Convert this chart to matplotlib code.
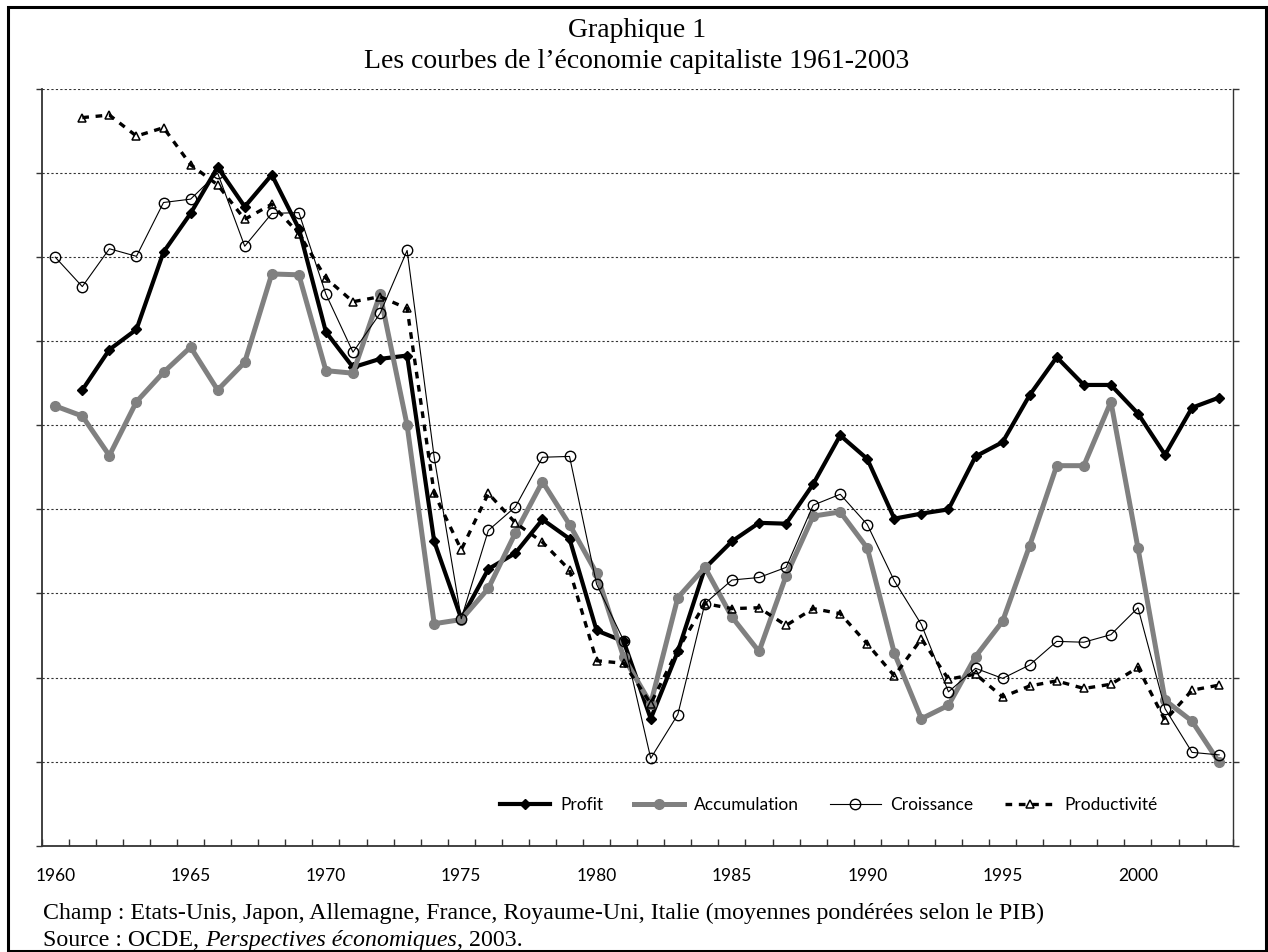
import numpy as np
import matplotlib
matplotlib.use('Agg')
import matplotlib.pyplot as plt
from matplotlib.patches import Rectangle

# years on the category axis
years = list(range(1960, 2004))

# series values (arbitrary units: one gridline = 1)
profit = [5.42, 5.90, 6.14, 7.06, 7.52, 8.07, 7.60, 7.98, 7.34,
          6.11, 5.69, 5.79, 5.83, 3.62, 2.70, 3.29, 3.48, 3.88, 3.65,
          2.56, 2.43, 1.51, 2.31, 3.30, 3.62, 3.84, 3.83, 4.30, 4.88,
          4.60, 3.89, 3.95, 4.00, 4.63, 4.80, 5.36, 5.81, 5.48, 5.48,
          5.14, 4.65, 5.21, 5.33]  # 1961-2003

accumulation = [5.23, 5.11, 4.64, 5.28, 5.63, 5.93, 5.42, 5.75, 6.80, 6.79,
                5.65, 5.62, 6.56, 5.00, 2.64, 2.69, 3.06, 3.72, 4.33, 3.82,
                3.24, 2.24, 1.69, 2.95, 3.31, 2.72, 2.31, 3.21, 3.92, 3.97,
                3.54, 2.29, 1.51, 1.67, 2.25, 2.67, 3.57, 4.52, 4.52, 5.28,
                3.54, 1.73, 1.48, 0.99]  # 1960-2003

croissance = [7.00, 6.65, 7.10, 7.01, 7.65, 7.69, 8.00, 7.13, 7.52, 7.53,
              6.56, 5.87, 6.33, 7.08, 4.62, 2.70, 3.75, 4.03, 4.62, 4.63,
              3.11, 2.44, 1.04, 1.56, 2.88, 3.16, 3.19, 3.31, 4.05, 4.18,
              3.82, 3.15, 2.63, 1.83, 2.11, 1.99, 2.15, 2.43, 2.42, 2.51,
              2.83, 1.63, 1.11, 1.08]  # 1960-2003

productivite = [8.66, 8.69, 8.44, 8.54, 8.10, 7.86, 7.45, 7.63, 7.28,
                6.75, 6.47, 6.53, 6.39, 4.19, 3.52, 4.19, 3.84, 3.61, 3.28,
                2.20, 2.17, 1.69, 2.33, 2.88, 2.82, 2.83, 2.62, 2.82, 2.76,
                2.40, 2.02, 2.46, 1.98, 2.04, 1.77, 1.90, 1.96, 1.87, 1.92,
                2.12, 1.49, 1.85, 1.91]  # 1961-2003

label_years = list(range(1960, 2001, 5))

SANS = 'Lato'
SERIF = 'Liberation Serif'
W, H = 1268, 952

fig = plt.figure(figsize=(W / 100, H / 100), dpi=100)
ax = fig.add_axes([41.7 / W, (H - 845.7) / H, (1232.7 - 41.7) / W, (845.7 - 89) / H])

ax.plot(years[1:], profit, color='black', lw=3, marker='D', ms=5.2,
        label='Profit', zorder=3)
ax.plot(years, accumulation, color='#808080', lw=3.6, marker='o', ms=7,
        label='Accumulation', zorder=4)
ax.plot(years, croissance, color='black', lw=0.8, marker='o', ms=7.5,
        mfc='none', mec='black', mew=1, label='Croissance', zorder=5)
ax.plot(years[1:], productivite, color='black', lw=2.4, ls=(0, (2.0, 2.0)),
        marker='^', ms=6, mfc='none', mec='black', mew=1.1,
        label='Productivité', zorder=6)

ax.set_xlim(1959.5, 2003.5)
ax.set_ylim(0, 9)

# x axis: labels at category centres, tick marks at category edges
ax.set_xticks(label_years)
ax.set_xticklabels([str(y) for y in label_years], family=SANS, size=12.5)
ax.set_xticks(np.arange(1959.5, 2004, 1), minor=True)
ax.tick_params(axis='x', which='major', length=0, pad=16)
ax.tick_params(axis='x', which='minor', direction='in', length=5, width=1, color='#333333')

# y axis: no labels, ticks on both sides
ax.set_yticks(range(0, 10))
ax.tick_params(axis='y', left=True, right=True, direction='out', length=4.5,
               width=1, color='#333333', labelleft=False)
ax.grid(axis='y', ls=(0, (2, 2)), lw=0.8, color='#333333')

ax.spines['top'].set_visible(False)
for s in ['left', 'bottom']:
    ax.spines[s].set_linewidth(1.3)
    ax.spines[s].set_color('#333333')
ax.spines['right'].set_linewidth(1)
ax.spines['right'].set_color('#333333')

ax.legend(ncol=4, loc='center left', bbox_to_anchor=(0.3848, 0.0538),
          frameon=False, borderpad=0, borderaxespad=0, handlelength=2.9,
          handletextpad=0.55, columnspacing=1.8, numpoints=1,
          prop={'family': SANS, 'size': 12.5})

# titles
fig.text(0.5024, 1 - 36.7 / H, 'Graphique 1', ha='center', va='baseline',
         family=SERIF, size=20)
fig.text(0.5024, 1 - 68.3 / H, 'Les courbes de l\u2019économie capitaliste 1961-2003',
         ha='center', va='baseline', family=SERIF, size=20)

# notes
fig.text(43 / W, 1 - 919 / H,
         'Champ : Etats-Unis, Japon, Allemagne, France, Royaume-Uni, Italie '
         '(moyennes pondérées selon le PIB)',
         ha='left', va='baseline', family=SERIF, size=17.2)
t1 = fig.text(43 / W, 1 - 946 / H, 'Source : OCDE, ', ha='left', va='baseline',
              family=SERIF, size=17.2)
t2 = ax.annotate('Perspectives économiques', xy=(1, 0), xycoords=t1, ha='left', va='bottom',
                 family=SERIF, style='italic', size=17.2, annotation_clip=False)
t3 = ax.annotate(', 2003.', xy=(1, 0), xycoords=t2, ha='left', va='bottom',
                 family=SERIF, size=17.2, annotation_clip=False)

# outer frame
fig.patches.append(Rectangle((7.5 / W, 1.5 / H), (1265.5 - 7.5) / W, (950.5 - 6.5) / H,
                             transform=fig.transFigure, fill=False, lw=2.2,
                             ec='black', zorder=10))

fig.savefig('out.png', dpi=100)
